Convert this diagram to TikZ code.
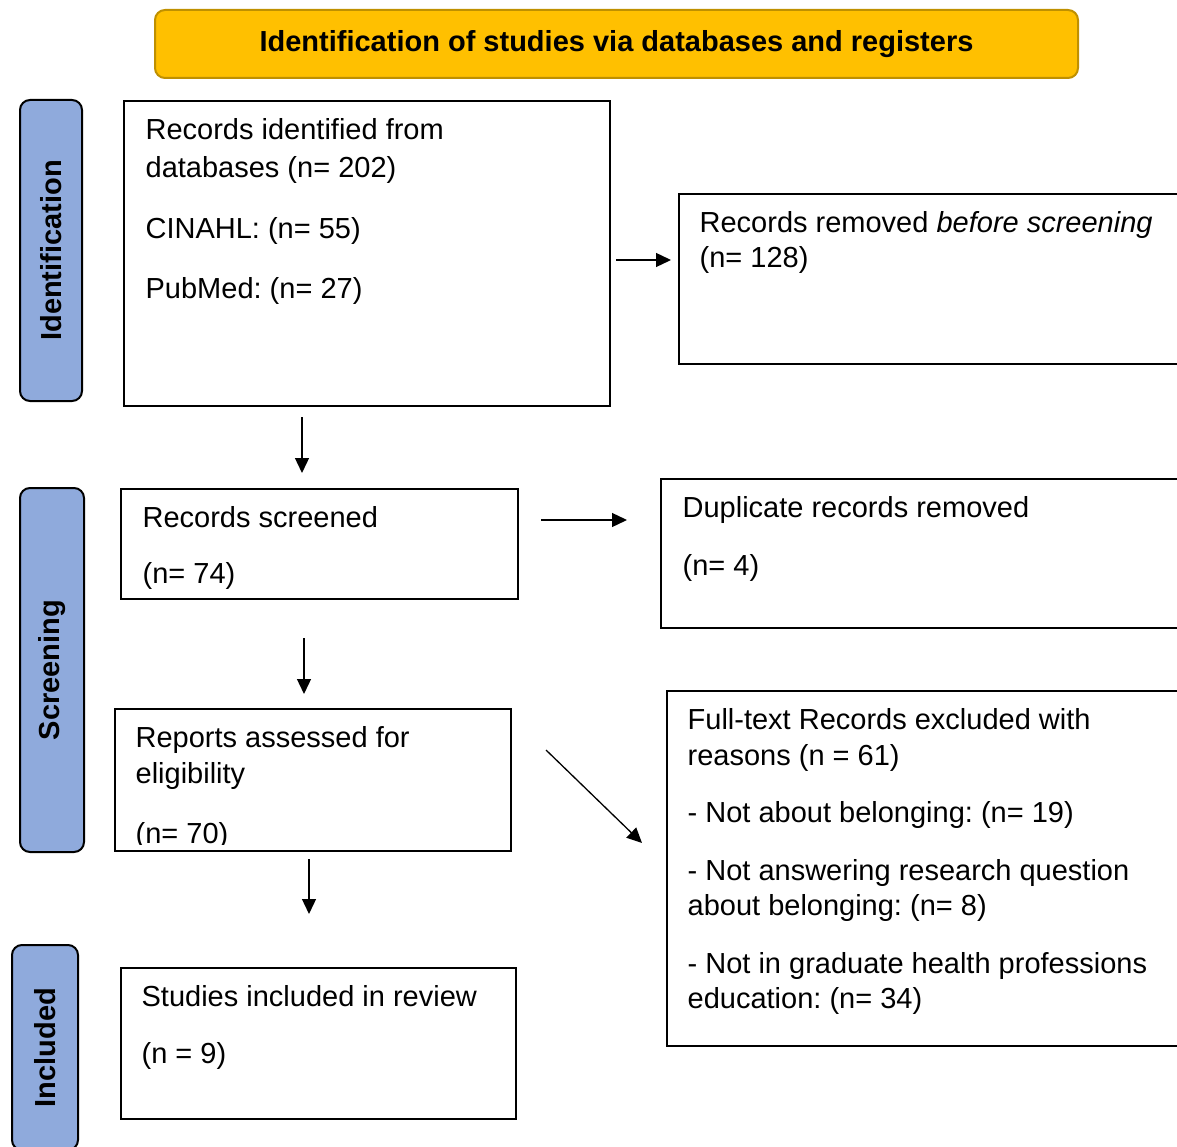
\documentclass[tikz,border=0pt]{standalone}
\usepackage{fontspec}
\setmainfont{Liberation Sans}
\usetikzlibrary{arrows.meta,calc}
\definecolor{phaseblue}{HTML}{8FAADC}
\definecolor{headgold}{HTML}{FFC000}
\definecolor{headedge}{HTML}{BF9000}
\frenchspacing

\begin{document}
\begin{tikzpicture}[x=1pt,y=-1pt,line width=1.3pt,>={Triangle[length=15pt,width=14pt]},
  box/.style={draw,line width=2pt,anchor=north west,inner sep=0pt},
  txt/.style={anchor=north west,inner sep=0pt,align=left,font=\fontsize{29pt}{35pt}\selectfont},
  phase/.style={draw,line width=2pt,fill=phaseblue,rounded corners=10pt,rotate=90,
    font=\fontsize{29pt}{35pt}\selectfont\bfseries}]
  \clip (0,0) rectangle (1177,1147);

  \node[draw=headedge,line width=2pt,fill=headgold,rounded corners=10pt,minimum width=923pt,
    minimum height=68pt,font=\fontsize{29pt}{35pt}\selectfont\bfseries] (head) at (616.5,44)
    {Identification of studies via databases and registers};

  \node[phase,minimum width=301pt,minimum height=62pt] (idlab) at (51,250.5) {Identification};
  \node[phase,minimum width=364pt,minimum height=64pt] (scrlab) at (52,670) {Screening};
  \node[phase,minimum width=205pt,minimum height=66pt] (inclab) at (45,1047.5) {Included};

  \node[box,minimum width=486pt,minimum height=305pt] (ident) at (123,100) {};
  \node[txt] (identtxt) at ($(ident.north west)+(22,18)$)
    {Records identified from\\[3pt] databases (n= 202)\\[26pt] CINAHL: (n= 55)\\[25pt] PubMed: (n= 27)};

  \node[box,minimum width=512pt,minimum height=170pt] (rem) at (678,193) {};
  \node[txt] (remtxt) at ($(rem.north west)+(21,18)$)
    {Records removed \textit{before screening}\\ (n= 128)};

  \node[box,minimum width=397pt,minimum height=110pt] (scr) at (120,488) {};
  \node[txt] (scrtxt) at ($(scr.north west)+(22,18)$) {Records screened\\[21pt] (n= 74)};

  \node[box,minimum width=530pt,minimum height=149pt] (dup) at (660,478) {};
  \node[txt] (duptxt) at ($(dup.north west)+(22,18)$) {Duplicate records removed\\[23pt] (n= 4)};

  \node[box,minimum width=396pt,minimum height=142pt] (rep) at (114,708) {};
  \begin{scope}
    \clip (rep.north west) rectangle ($(rep.south east)+(0,-8)$);
    \node[txt] (reptxt) at ($(rep.north west)+(21,18)$)
      {Reports assessed for\\[1pt] eligibility\\[25pt] (n= 70)};
  \end{scope}

  \node[box,minimum width=524pt,minimum height=355pt] (exc) at (666,690) {};
  \node[txt] (exctxt) at ($(exc.north west)+(21,18)$)
    {Full-text Records excluded with\\[1pt] reasons (n = 61)\\[22pt]
     - Not about belonging: (n= 19)\\[23pt]
     - Not answering research question\\ about belonging: (n= 8)\\[23pt]
     - Not in graduate health professions\\ education: (n= 34)};

  \node[box,minimum width=395pt,minimum height=151pt] (stud) at (120,967) {};
  \node[txt] (studtxt) at ($(stud.north west)+(21,18)$) {Studies included in review\\[22pt] (n = 9)};

  \draw[->] ($(ident.north east)+(5,160)$) -- ($(rem.north west)+(-7,67)$);
  \draw[->] ($(ident.south west)+(179,10)$) -- ($(scr.north west)+(182,-15)$);
  \draw[->] ($(scr.north east)+(22,32)$) -- ($(dup.north west)+(-33,42)$);
  \draw[->] ($(scr.south west)+(184,38)$) -- ($(rep.north west)+(190,-14)$);
  \draw[->] ($(rep.north east)+(34,42)$) -- ($(exc.north west)+(-24,153)$);
  \draw[->] ($(rep.south west)+(195,7)$) -- ($(stud.north west)+(189,-53)$);
\end{tikzpicture}
\end{document}
